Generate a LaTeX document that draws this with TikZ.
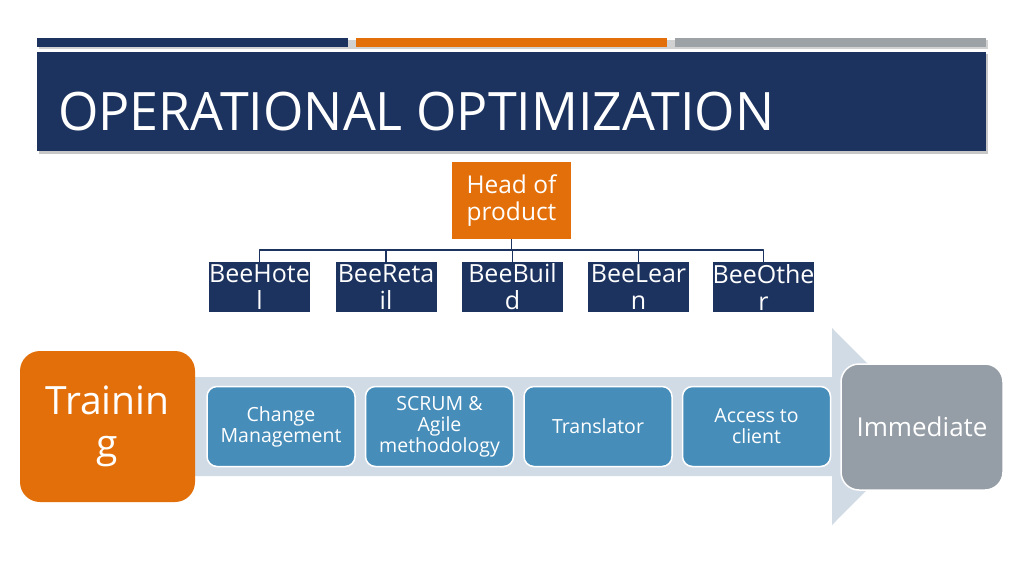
\documentclass[tikz,border=0pt]{standalone}
\usepackage{fontspec}
\setmainfont{Open Sans}
\newfontfamily\titlefont[FakeStretch=0.98]{Open Sans}
\usetikzlibrary{arrows}
\definecolor{navy}{HTML}{1C335F}
\definecolor{ochre}{HTML}{E36F0A}
\definecolor{steel}{HTML}{9DA2A7}
\definecolor{band}{HTML}{D1DBE6}
\definecolor{teal}{HTML}{478DB9}
\definecolor{slate}{HTML}{959DA6}

\begin{document}
\begin{tikzpicture}[line cap=round,line join=round,x=1pt,y=-1pt,
	box/.style={rectangle,inner sep=0pt,align=center,text=white},
	head/.style={box,fill=ochre,minimum width=119pt,minimum height=77pt,font=\fontsize{24.5}{27}\selectfont},
	unitbox/.style={box,fill=navy,minimum width=101pt,minimum height=50pt,font=\fontsize{25}{27}\selectfont},
	stage/.style={box,fill=teal,draw=white,line width=1.5pt,rounded corners=10pt,minimum width=148pt,minimum height=80pt,font=\fontsize{19.5}{21}\selectfont},
	link/.style={draw=navy,line width=1.8pt,line cap=butt}]
		\useasboundingbox (0,0) rectangle (1024,575);
		\fill[white] (0,0) rectangle (1024,575);

		\fill[black!18] (39,40) rectangle (988,49);
		\fill[navy] (37,38) rectangle (348,47);
		\fill[ochre] (356,38) rectangle (667,47);
		\fill[steel] (675,38) rectangle (986,47);
		\fill[black!22] (39,54) rectangle (988,154);
		\fill[navy] (37,52) rectangle (986,151);
		\node[anchor=base west,text=white,inner sep=0pt,font=\titlefont\fontsize{53}{60}\selectfont] (title) at (58,130) {OPERATIONAL OPTIMIZATION};

		\node[head] (hop) at (511.5,200.5) {Head of\\product};
		\node[unitbox] (hotel) at (259.5,287) {BeeHote\\l};
		\node[unitbox] (retail) at (386,287) {BeeReta\\il};
		\node[unitbox] (build) at (512.5,287) {BeeBuil\\d};
		\node[unitbox] (learn) at (638.5,287) {BeeLear\\n};
		\node[unitbox] (other) at (763.5,287) {BeeOthe\\r};
		\coordinate (bus) at (511.5,250);
		\draw[link] (hop.south) -- (bus);
		\foreach \u in {hotel,retail,build,learn,other}
			\draw[link] (bus) -| (\u.north);

		\fill[band] (195,377) -- (832,377) -- (832,328) -- (930,426.5) -- (832,525) -- (832,476) -- (195,476) -- cycle;
		\node[box,fill=ochre,rounded corners=20pt,minimum width=175pt,minimum height=151pt,font=\fontsize{39}{43}\selectfont] (train) at (107.5,426.5) {Trainin\\g};
		\node[stage] (change) at (281,426.5) {Change\\Management};
		\node[stage] (scrum) at (439.5,426.5) {SCRUM \&\\Agile\\methodology};
		\node[stage] (transl) at (598,426.5) {Translator};
		\node[stage] (access) at (756.5,426.5) {Access to\\client};
		\node[box,fill=slate,draw=white,line width=1.5pt,rounded corners=18pt,minimum width=162pt,minimum height=126pt,font=\fontsize{26}{30}\selectfont] (now) at (922,427) {Immediate};
	\end{tikzpicture}
\end{document}
